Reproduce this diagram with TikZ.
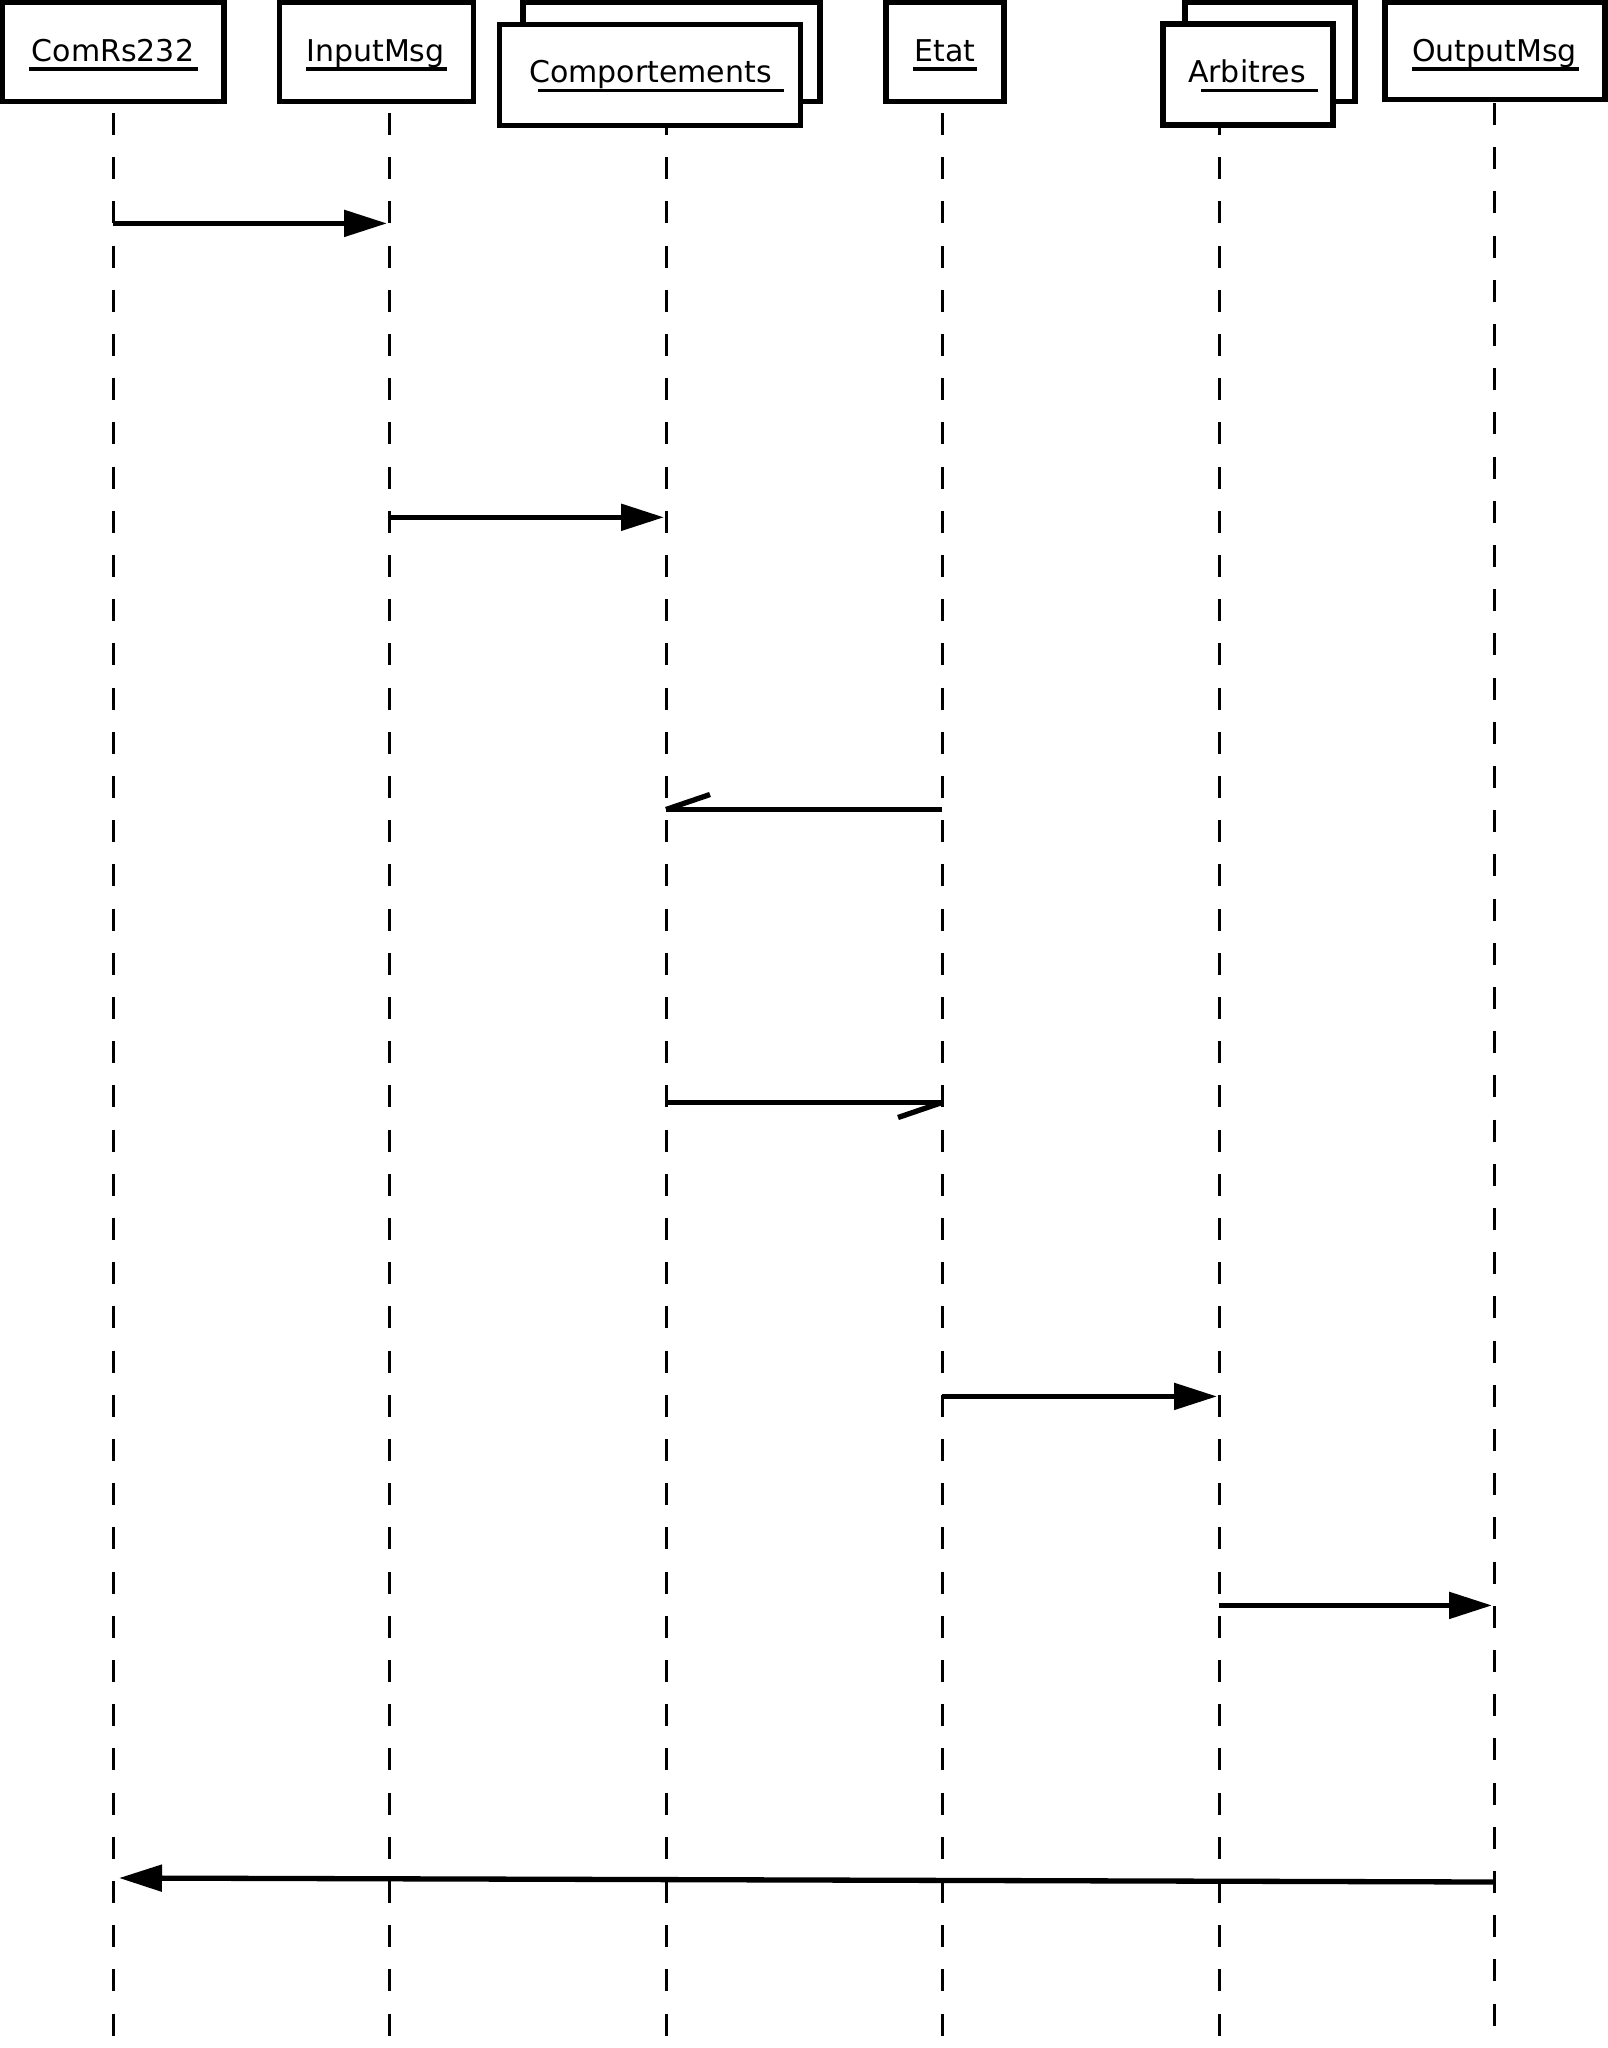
\documentclass[tikz,border=0pt]{standalone}
\usepackage{fontspec}
\setmainfont{DejaVu Sans}
\usetikzlibrary{arrows.meta}
\begin{document}
\begin{tikzpicture}[x=1pt,y=-1pt,
  objbox/.style={draw,line width=5.5pt,fill=white,minimum height=99pt,inner sep=0pt,outer sep=0pt},
  objname/.style={anchor=base,inner sep=0pt,font=\fontsize{30}{36}\selectfont},
  uline/.style={line width=3.2pt},
  lifeline/.style={line width=3pt,dash pattern=on 22pt off 22.2pt},
  msg/.style={line width=5.3pt},
  synch/.style={msg,-{Triangle[length=43pt,width=26pt]}},
  barb/.style={line width=5.3pt}]
\useasboundingbox (0,0) rectangle (1608,2048);
% lifeline ends
\coordinate (l1t) at (113,113);  \coordinate (l1b) at (113,2037);
\coordinate (l2t) at (389,113);  \coordinate (l2b) at (389,2037);
\coordinate (l3t) at (666,113);  \coordinate (l3b) at (666,2037);
\coordinate (l4t) at (942,113);  \coordinate (l4b) at (942,2037);
\coordinate (l5t) at (1219,113); \coordinate (l5b) at (1219,2037);
\coordinate (l6t) at (1494,103); \coordinate (l6b) at (1494,2026);
\foreach \i in {1,...,6} {\draw[lifeline] (l\i t) -- (l\i b);}
% object boxes
\node[objbox,minimum width=222pt] (comrs) at (113,52) {};
\node[objbox,minimum width=194pt] (input) at (376.5,52) {};
\node[objbox,minimum width=297pt] (compback) at (671.5,52) {};
\node[objbox,minimum width=301pt,minimum height=101pt] (comp) at (650,75) {};
\node[objbox,minimum width=118pt] (etat) at (945,52) {};
\node[objbox,minimum width=170pt] (arbback) at (1270,52) {};
\node[objbox,minimum width=170pt,minimum height=101pt] (arb) at (1248,74.5) {};
\node[objbox,minimum width=220pt,minimum height=97pt] (output) at (1495,51) {};
% names
\node[objname] (tcomrs) at (113,61.7) {ComRs232};
\node[objname] (tinput) at (375.5,61.7) {InputMsg};
\node[objname] (tcomp) at (650.5,82.7) {Comportements};
\node[objname] (tetat) at (945,61.7) {Etat};
\node[objname] (tarb) at (1247,82.7) {Arbitres};
\node[objname] (toutput) at (1494.5,61.7) {OutputMsg};
\draw[uline] (29,69) -- (198,69);
\draw[uline] (306,69) -- (446.5,69);
\draw[uline] (538,90.7) -- (784,90.7);
\draw[uline] (913,69) -- (977,69);
\draw[uline] (1201,90.7) -- (1317.5,90.7);
\draw[uline] (1412,69) -- (1579,69);
% message ends
\coordinate (m1a) at (113,223.4);  \coordinate (m1b) at (387,223.4);
\coordinate (m2a) at (389,517.3);  \coordinate (m2b) at (664,517.3);
\coordinate (m3a) at (942,809.5);  \coordinate (m3b) at (666,809.5); \coordinate (m3c) at (710,794.5);
\coordinate (m4a) at (666,1102.5); \coordinate (m4b) at (942,1102.5); \coordinate (m4c) at (898,1117.5);
\coordinate (m5a) at (942,1396.4); \coordinate (m5b) at (1217,1396.4);
\coordinate (m6a) at (1219,1605.4); \coordinate (m6b) at (1492,1605.4);
\coordinate (m7a) at (1494,1882); \coordinate (m7b) at (119,1878);
\draw[synch] (m1a) -- (m1b);
\draw[synch] (m2a) -- (m2b);
\draw[msg] (m3a) -- (m3b);
\draw[barb] (m3b) -- (m3c);
\draw[msg] (m4a) -- (m4b);
\draw[barb] (m4b) -- (m4c);
\draw[synch] (m5a) -- (m5b);
\draw[synch] (m6a) -- (m6b);
\draw[synch] (m7a) -- (m7b);
\end{tikzpicture}
\end{document}
